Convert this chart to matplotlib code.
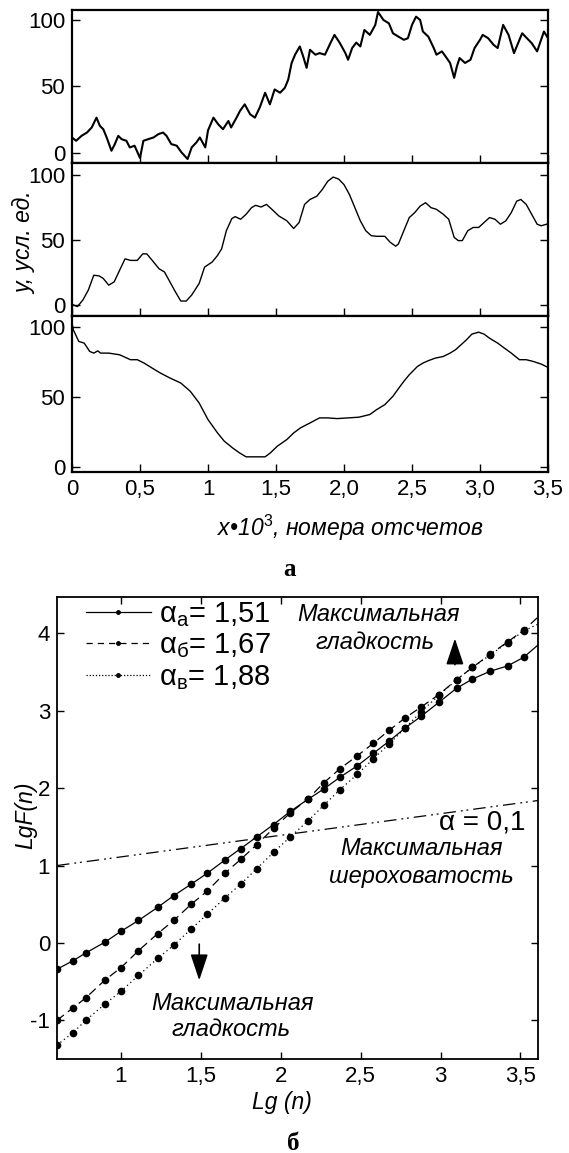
import matplotlib
matplotlib.use("Agg")
import matplotlib.pyplot as plt
from matplotlib.lines import Line2D

plt.rcParams['font.family'] = ['Liberation Sans', 'DejaVu Sans']
plt.rcParams['mathtext.fontset'] = 'custom'
plt.rcParams['mathtext.rm'] = 'Liberation Sans'
plt.rcParams['mathtext.it'] = 'Liberation Sans:italic'

# ---- chart a: three signals (x in thousands of samples) ----
sig1_x = [0.00, 0.03, 0.07, 0.11, 0.145, 0.18, 0.205, 0.23, 0.255, 0.29,
          0.315, 0.34, 0.365, 0.40, 0.425, 0.46, 0.50, 0.525, 0.56, 0.60,
          0.635, 0.67, 0.695, 0.73, 0.77, 0.805, 0.85, 0.88, 0.915, 0.94,
          0.98, 1.00, 1.04, 1.075, 1.11, 1.15, 1.17, 1.21, 1.235, 1.27,
          1.31, 1.345, 1.38, 1.42, 1.455, 1.49, 1.53, 1.565, 1.59, 1.615,
          1.64, 1.675, 1.70, 1.725, 1.75, 1.79, 1.82, 1.86, 1.90, 1.93,
          1.97, 2.01, 2.03, 2.06, 2.09, 2.12, 2.15, 2.19, 2.23, 2.25,
          2.29, 2.33, 2.36, 2.40, 2.44, 2.47, 2.50, 2.53, 2.56, 2.58,
          2.62, 2.66, 2.68, 2.72, 2.755, 2.78, 2.81, 2.83, 2.85, 2.89,
          2.93, 2.96, 3.00, 3.02, 3.06, 3.10, 3.13, 3.17, 3.21, 3.25,
          3.31, 3.38, 3.42, 3.47, 3.50]
sig1_y = [11.7, 9.2, 12.9, 15.4, 19.2, 26.6, 20.4, 17.9, 11.7, 1.7,
          6.7, 12.9, 10.4, 9.2, 4.2, 5.5, -3.7, 9.2, 10.4, 11.7,
          14.2, 15.4, 12.9, 6.7, 5.5, 0.5, -4.5, 4.2, 8.0, 11.7,
          4.2, 17.0, 26.6, 21.6, 17.9, 24.1, 19.2, 26.6, 31.6, 36.6,
          29.1, 26.6, 34.1, 45.3, 36.6, 47.8, 45.3, 49.0, 55.2, 67.7,
          73.9, 80.1, 72.6, 64.0, 77.6, 73.9, 75.1, 73.9, 82.6, 88.8,
          82.6, 75.1, 70.1, 78.9, 83.0, 80.1, 92.5, 88.8, 96.3, 106.0,
          100.0, 97.5, 90.0, 87.5, 85.1, 86.3, 96.3, 102.5, 100.0, 91.3,
          87.5, 78.9, 73.9, 76.4, 71.4, 67.7, 56.5, 65.1, 71.4, 67.7,
          70.1, 78.9, 85.1, 88.8, 86.3, 81.3, 78.9, 96.3, 88.8, 75.1,
          90.0, 82.6, 76.4, 91.3, 86.3]

sig2_x = [0.01, 0.04, 0.08, 0.12, 0.16, 0.20, 0.23, 0.27, 0.31, 0.35,
          0.39, 0.43, 0.48, 0.52, 0.55, 0.59, 0.64, 0.68, 0.72, 0.76,
          0.80, 0.84, 0.88, 0.935, 0.975, 1.03, 1.07, 1.10, 1.135, 1.175,
          1.20, 1.24, 1.28, 1.32, 1.35, 1.39, 1.43, 1.47, 1.52, 1.58,
          1.63, 1.67, 1.71, 1.75, 1.80, 1.84, 1.88, 1.92, 1.96, 2.00,
          2.04, 2.08, 2.12, 2.16, 2.20, 2.24, 2.30, 2.34, 2.38, 2.40,
          2.44, 2.48, 2.52, 2.56, 2.60, 2.64, 2.68, 2.73, 2.77, 2.81,
          2.84, 2.87, 2.91, 2.95, 2.99, 3.03, 3.07, 3.11, 3.15, 3.19,
          3.23, 3.27, 3.30, 3.34, 3.38, 3.42, 3.45, 3.49]
sig2_y = [0.0, -1.3, 3.8, 11.4, 22.8, 22.3, 20.3, 15.2, 17.7, 26.6,
          35.4, 34.2, 34.2, 39.2, 39.2, 34.2, 27.8, 25.3, 17.7, 10.1,
          3.0, 3.0, 7.6, 16.5, 29.1, 32.9, 38.0, 43.0, 57.0, 66.3,
          67.8, 65.8, 69.6, 74.7, 76.5, 75.2, 77.2, 73.4, 68.4, 64.6,
          58.7, 63.3, 77.2, 81.0, 83.5, 88.6, 94.9, 98.2, 96.7, 92.4,
          84.8, 74.7, 64.6, 57.0, 53.2, 52.7, 52.7, 48.1, 45.1, 46.8,
          57.0, 67.1, 70.9, 75.9, 78.5, 74.7, 73.4, 69.6, 65.8, 51.9,
          49.4, 49.4, 57.0, 59.5, 59.5, 63.3, 67.1, 65.8, 62.0, 64.6,
          70.9, 79.7, 81.0, 77.2, 69.6, 62.0, 60.8, 62.0]

sig3_x = [0.00, 0.01, 0.05, 0.09, 0.13, 0.16, 0.19, 0.21, 0.27, 0.35,
          0.43, 0.48, 0.53, 0.59, 0.65, 0.72, 0.80, 0.87, 0.935, 1.00,
          1.07, 1.12, 1.18, 1.23, 1.28, 1.35, 1.42, 1.46, 1.51, 1.58,
          1.63, 1.68, 1.75, 1.82, 1.88, 1.95, 2.03, 2.11, 2.19, 2.24,
          2.30, 2.36, 2.40, 2.44, 2.48, 2.54, 2.58, 2.62, 2.67, 2.73,
          2.78, 2.82, 2.86, 2.90, 2.94, 2.99, 3.03, 3.07, 3.13, 3.18,
          3.23, 3.29, 3.34, 3.39, 3.45, 3.50]
sig3_y = [102.4, 97.6, 89.4, 88.2, 82.3, 81.1, 82.7, 81.1, 81.1, 79.9,
          76.4, 76.4, 74.0, 70.4, 66.9, 63.4, 59.8, 53.9, 45.6, 33.8,
          24.3, 18.4, 13.7, 10.2, 7.3, 7.3, 7.3, 10.2, 14.9, 19.6,
          24.3, 27.9, 31.4, 35.0, 35.0, 34.5, 35.0, 35.5, 37.4, 40.9,
          44.4, 50.4, 55.8, 61.0, 65.7, 71.6, 74.0, 75.7, 77.5, 78.7,
          81.1, 83.5, 87.0, 90.5, 94.6, 96.0, 94.6, 91.7, 88.2, 84.6,
          81.1, 76.4, 76.4, 75.2, 73.3, 70.9]

a_xticks = [0, 0.5, 1, 1.5, 2, 2.5, 3, 3.5]
a_xticklabels = ['0', '0,5', '1', '1,5', '2,0', '2,5', '3,0', '3,5']
a_yticks = [0, 50, 100]

# ---- chart b: DFA curves ----
lg_n = [0.60, 0.70, 0.78, 0.90, 1.00, 1.11, 1.23, 1.33, 1.44, 1.54,
        1.65, 1.75, 1.85, 1.955, 2.06, 2.17, 2.27, 2.37, 2.48, 2.58,
        2.68, 2.78, 2.88, 2.99, 3.10, 3.20, 3.31, 3.42, 3.52]
lgF_a = [-0.34, -0.23, -0.13, 0.01, 0.15, 0.29, 0.46, 0.61, 0.76, 0.90,
         1.07, 1.22, 1.37, 1.53, 1.70, 1.855, 1.99, 2.14, 2.29, 2.45,
         2.61, 2.78, 2.93, 3.11, 3.29, 3.41, 3.51, 3.58, 3.69]
lgF_b = [-1.00, -0.84, -0.71, -0.48, -0.32, -0.10, 0.12, 0.29, 0.50, 0.67,
         0.90, 1.08, 1.27, 1.48, 1.68, 1.86, 2.07, 2.25, 2.42, 2.58,
         2.75, 2.91, 3.05, 3.21, 3.40, 3.56, 3.73, 3.89, 4.04]
lgF_v = [-1.32, -1.16, -1.00, -0.79, -0.625, -0.42, -0.20, -0.03, 0.18, 0.37,
         0.58, 0.76, 0.96, 1.17, 1.37, 1.575, 1.78, 1.98, 2.18, 2.38,
         2.575, 2.78, 2.99, 3.20, 3.40, 3.56, 3.72, 3.88, 4.03]
lg_n_end = 3.61
end_a, end_b, end_v = 3.85, 4.21, 4.12
rough_x = [0.60, 3.61]
rough_y = [1.00, 1.84]

b_xticks = [1, 1.5, 2, 2.5, 3, 3.5]
b_xticklabels = ['1', '1,5', '2', '2,5', '3', '3,5']
b_yticks = [-1, 0, 1, 2, 3, 4]
b_yticklabels = ['-1', '0', '1', '2', '3', '4']
labels = ['α$_{\\mathrm{а}}$= 1,51', 'α$_{\\mathrm{б}}$= 1,67', 'α$_{\\mathrm{в}}$= 1,88']

W, H = 569, 1153
fig = plt.figure(figsize=(W / 100, H / 100), dpi=100)


def box(x0, y0, x1, y1):
    return [x0 / W, 1 - y1 / H, (x1 - x0) / W, (y1 - y0) / H]


def style(ax, lw, length, size):
    for s in ax.spines.values():
        s.set_linewidth(lw)
    ax.tick_params(direction='in', top=True, right=True, length=length,
                   width=1.0, labelsize=size, pad=5)


# chart a panels
panels = [(sig1_x, sig1_y, 10, 163, (-7.5, 107.5), 1.5),
          (sig2_x, sig2_y, 163, 316, (-8.5, 109), 1.0),
          (sig3_x, sig3_y, 316, 472, (-3.5, 107.5), 1.0)]
for i, (xs, ys, t, b, yl, lw) in enumerate(panels):
    ax = fig.add_axes(box(72, t, 548, b))
    ax.plot(xs, ys, color='black', lw=lw)
    ax.set_xlim(0, 3.5)
    ax.set_ylim(*yl)
    ax.set_yticks(a_yticks)
    ax.set_xticks(a_xticks)
    style(ax, 1.6, 6, 16)
    ax.tick_params(axis='x', top=False)
    if i < 2:
        ax.set_xticklabels([])
    else:
        ax.set_xticklabels(a_xticklabels)

fig.text(25 / W, 1 - 243 / H, 'y, усл. ед.', rotation=90, style='italic',
         fontsize=16.5, ha='center', va='center')
fig.text(350 / W, 1 - 528 / H, 'x•10$^{3}$, номера отсчетов', style='italic',
         fontsize=16.5, ha='center', va='center')
fig.text(290 / W, 1 - 570 / H, 'а', family='Liberation Serif', weight='bold',
         fontsize=18, ha='center', va='center')

# chart b
ax = fig.add_axes(box(57, 597, 538, 1059))
n = len(lg_n)
ax.plot(lg_n + [lg_n_end], lgF_a + [end_a], color='black', lw=0.9, ls='-',
        marker='o', ms=4.5, markevery=slice(0, n))
ax.plot(lg_n + [lg_n_end], lgF_b + [end_b], color='black', lw=0.9, ls=(0, (7, 4)),
        marker='o', ms=4.5, markevery=slice(0, n))
ax.plot(lg_n + [lg_n_end], lgF_v + [end_v], color='black', lw=0.9, ls=(0, (1, 2.5)),
        marker='o', ms=4.5, markevery=slice(0, n))
ax.plot(rough_x, rough_y, color='black', lw=0.9, ls=(0, (10, 4, 1.5, 3, 1.5, 4)))
ax.set_xlim(0.6, 3.61)
ax.set_ylim(-1.5, 4.47)
ax.set_xticks(b_xticks)
ax.set_xticklabels(b_xticklabels)
ax.set_yticks(b_yticks)
ax.set_yticklabels(b_yticklabels)
style(ax, 1.3, 5, 16)

handles = [Line2D([], [], color='black', lw=0.9, ls='-', marker='o', ms=2.5),
           Line2D([], [], color='black', lw=0.9, ls=(0, (5, 4)), marker='o', ms=2.5),
           Line2D([], [], color='black', lw=0.9, ls=(0, (1, 1.5)), marker='o', ms=2.5)]
ax.legend(handles, labels, loc='upper left', bbox_to_anchor=(0.055, 1.0),
          frameon=False, fontsize=21, handlelength=2.2, handletextpad=0.3,
          labelspacing=0.1, borderpad=0.1, borderaxespad=0)

ax.text(2.61, 4.25, 'Максимальная', style='italic', fontsize=17, ha='center', va='center')
ax.text(2.59, 3.88, 'гладкость', style='italic', fontsize=17, ha='center', va='center')
ax.annotate('', xy=(3.09, 3.97), xytext=(3.09, 3.56),
            arrowprops=dict(arrowstyle='-|>,head_length=0.9,head_width=0.3',
                            color='black', lw=1.2, mutation_scale=18))
ax.text(3.53, 1.55, 'α = 0,1', fontsize=20, ha='right', va='center')
ax.text(2.88, 1.22, 'Максимальная', style='italic', fontsize=17, ha='center', va='center')
ax.text(2.88, 0.86, 'шероховатость', style='italic', fontsize=17, ha='center', va='center')
ax.annotate('', xy=(1.49, -0.52), xytext=(1.49, 0.02),
            arrowprops=dict(arrowstyle='-|>,head_length=0.9,head_width=0.3',
                            color='black', lw=1.2, mutation_scale=18))
ax.text(1.70, -0.78, 'Максимальная', style='italic', fontsize=17, ha='center', va='center')
ax.text(1.69, -1.12, 'гладкость', style='italic', fontsize=17, ha='center', va='center')

fig.text(26 / W, 1 - 815 / H, 'LgF(n)', rotation=90, style='italic',
         fontsize=16.5, ha='center', va='center')
fig.text(282 / W, 1 - 1102 / H, 'Lg (n)', style='italic', fontsize=16.5,
         ha='center', va='center')
fig.text(293 / W, 1 - 1143 / H, 'б', family='Liberation Serif', weight='bold',
         fontsize=18, ha='center', va='center')

fig.savefig('out.png', dpi=100)
